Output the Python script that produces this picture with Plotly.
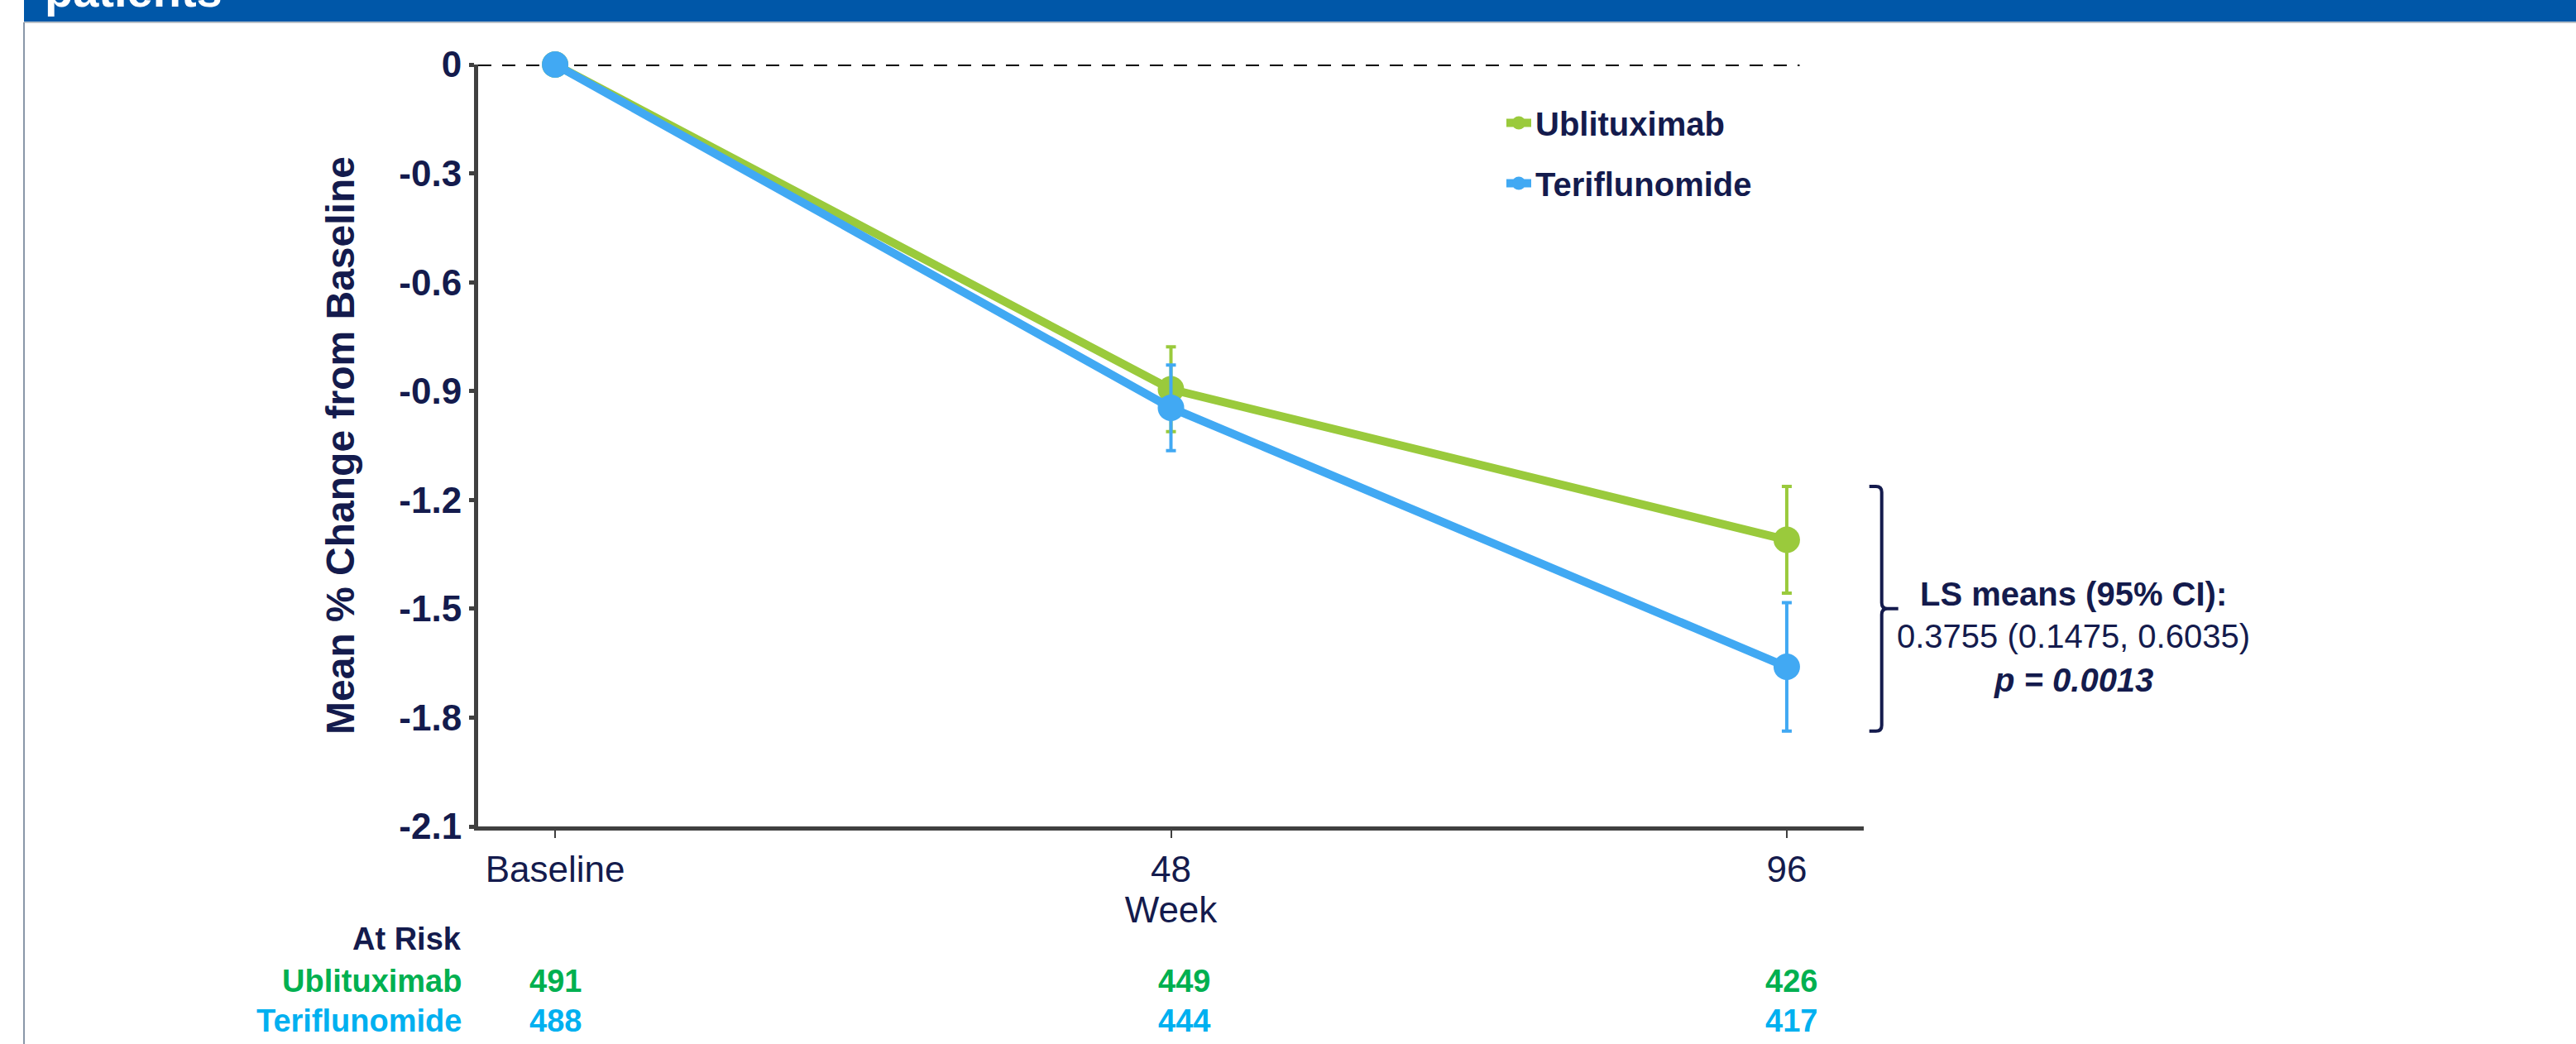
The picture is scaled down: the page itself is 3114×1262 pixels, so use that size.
import plotly.graph_objects as go

# ---------------- data ----------------
weeks = [0, 48, 96]
x_tick_labels = ["Baseline", "48", "96"]
ubli_mean = [0.0, -0.895, -1.31]
ubli_ci = [0.0, 0.117, 0.147]
teri_mean = [0.0, -0.946, -1.66]
teri_ci = [0.0, 0.118, 0.177]
ubli_at_risk = [491, 449, 426]
teri_at_risk = [488, 444, 417]
y_tick_vals = [0, -0.3, -0.6, -0.9, -1.2, -1.5, -1.8, -2.1]
y_tick_text = ["0", "-0.3", "-0.6", "-0.9", "-1.2", "-1.5", "-1.8", "-2.1"]
series_names = ["Ublituximab", "Teriflunomide"]
ls_lines = ["<b>LS means (95% CI):</b>", "0.3755 (0.1475, 0.6035)", "<b><i>p = 0.0013</i></b>"]

# ---------------- style ----------------
W, H = 3114, 1262
ML, MR, MT, MB = 578, 861, 78, 263
PW, PH = W - ML - MR, H - MT - MB
XR = [-6, 102]
YR = [-2.1, 0]
NAVY = "#141B4D"
GREEN = "#9ACA3C"
BLUE = "#41A9F3"
GREEN_TXT = "#00B050"
BLUE_TXT = "#00B0F0"
AXIS = "#404040"
FONT = "Liberation Sans, Arial, sans-serif"


def fx(px):
    return (px - ML) / PW


def fy(py):
    return 1 - (py - MT) / PH


def dx(v):  # data x -> paper x
    return (v - XR[0]) / (XR[1] - XR[0])


def dy(v):  # data y -> paper y
    return (v - YR[0]) / (YR[1] - YR[0])


fig = go.Figure()

for name, mean, ci, col in [
    (series_names[0], ubli_mean, ubli_ci, GREEN),
    (series_names[1], teri_mean, teri_ci, BLUE),
]:
    fig.add_trace(go.Scatter(
        x=weeks, y=mean, name=name, mode="lines+markers",
        line=dict(color=col, width=10),
        marker=dict(color=col, size=32),
        error_y=dict(type="data", array=ci, visible=True, color=col,
                     thickness=4, width=6),
        cliponaxis=False, legendgroup=name,
    ))

# dashed reference line at zero
fig.add_shape(type="line", xref="x", yref="y", x0=XR[0], x1=97, y0=0, y1=0,
              line=dict(color="black", width=4, dash="16px,13px"), layer="below")

# bracket between the two week-96 CIs (paper coords so it is not clipped)
top = dy(ubli_mean[2] + ubli_ci[2])
bot = dy(teri_mean[2] - teri_ci[2])
mid = (top + bot) / 2
xb = dx(weeks[2] + 7.4)
u = 1 / PW   # one pixel in paper x
v = 1 / PH   # one pixel in paper y
path = (f"M {xb-15*u},{top} L {xb-7*u},{top} Q {xb},{top} {xb},{top-7*v} "
        f"L {xb},{mid+7*v} Q {xb},{mid} {xb+7*u},{mid} L {xb+20*u},{mid} "
        f"M {xb+7*u},{mid} Q {xb},{mid} {xb},{mid-7*v} "
        f"L {xb},{bot+7*v} Q {xb},{bot} {xb-7*u},{bot} L {xb-15*u},{bot}")
fig.add_shape(type="path", xref="paper", yref="paper", path=path,
              line=dict(color=NAVY, width=4))

# LS means annotation
for txt, py in zip(ls_lines, [718, 769, 822]):
    fig.add_annotation(xref="paper", yref="paper", x=fx(2506), y=fy(py),
                       text=txt, showarrow=False, xanchor="center", yanchor="middle",
                       font=dict(family=FONT, size=40, color=NAVY))

# header band
fig.add_shape(type="rect", xref="paper", yref="paper", x0=fx(29), x1=fx(3114),
              y0=fy(26), y1=fy(0), fillcolor="#0057A8", line=dict(width=0))
fig.add_shape(type="line", xref="paper", yref="paper", x0=fx(29), x1=fx(3114),
              y0=fy(27), y1=fy(27), line=dict(color="#B8C0C8", width=2))
fig.add_shape(type="line", xref="paper", yref="paper", x0=fx(29), x1=fx(29),
              y0=fy(27), y1=fy(1262), line=dict(color="#8A97A8", width=2))
fig.add_annotation(xref="paper", yref="paper", x=fx(52), y=fy(22),
                   text="<b>patients</b>", showarrow=False, xanchor="left",
                   yanchor="bottom", font=dict(family=FONT, size=56, color="white"))

# at-risk table
fig.add_annotation(xref="paper", yref="paper", x=fx(560), y=fy(1158),
                   text="<b>At Risk</b>", showarrow=False, xanchor="right",
                   font=dict(family=FONT, size=38, color=NAVY))
for name, vals, col, py in [
    (series_names[0], ubli_at_risk, GREEN_TXT, 1209),
    (series_names[1], teri_at_risk, BLUE_TXT, 1257),
]:
    fig.add_annotation(xref="paper", yref="paper", x=fx(560), y=fy(py),
                       text=f"<b>{name}</b>", showarrow=False, xanchor="right",
                       font=dict(family=FONT, size=38, color=col))
    for wk, val, sh in zip(weeks, vals, [0, 16, 6]):
        fig.add_annotation(xref="x", yref="paper", x=wk, y=fy(py), xshift=sh,
                           text=f"<b>{val}</b>", showarrow=False, xanchor="center",
                           font=dict(family=FONT, size=38, color=col))

fig.update_layout(
    width=W, height=H, autosize=False,
    margin=dict(l=ML, r=MR, t=MT, b=MB, pad=0),
    paper_bgcolor="white", plot_bgcolor="white",
    font=dict(family=FONT, color=NAVY),
    showlegend=True,
    legend=dict(x=fx(1816), y=fy(116), xanchor="left", yanchor="top",
                bgcolor="rgba(0,0,0,0)", traceorder="grouped", tracegroupgap=18,
                font=dict(family=FONT, size=40, color=NAVY, weight="bold"),
                itemsizing="trace"),
)
fig.update_xaxes(
    range=XR, tickmode="array", tickvals=weeks, ticktext=x_tick_labels,
    showline=True, linecolor=AXIS, linewidth=5, showgrid=False, zeroline=False,
    ticks="outside", ticklen=9, tickwidth=2, tickcolor=AXIS,
    tickfont=dict(family=FONT, size=44, color=NAVY),
    title=dict(text="Week", font=dict(family=FONT, size=44, color=NAVY), standoff=2),
    automargin=False,
)
fig.update_yaxes(
    range=YR, tickmode="array", tickvals=y_tick_vals, ticktext=y_tick_text,
    showline=True, linecolor=AXIS, linewidth=5, showgrid=False, zeroline=False,
    ticks="outside", ticklen=6, tickwidth=5, tickcolor=AXIS,
    tickfont=dict(family=FONT, size=44, color=NAVY, weight="bold"),
    title=dict(text="Mean % Change from Baseline",
               font=dict(family=FONT, size=48, color=NAVY, weight="bold"), standoff=40),
    automargin=False,
)

fig.write_html("out.html", config={"displayModeBar": False},
               post_script="document.body.style.margin='0px';")
